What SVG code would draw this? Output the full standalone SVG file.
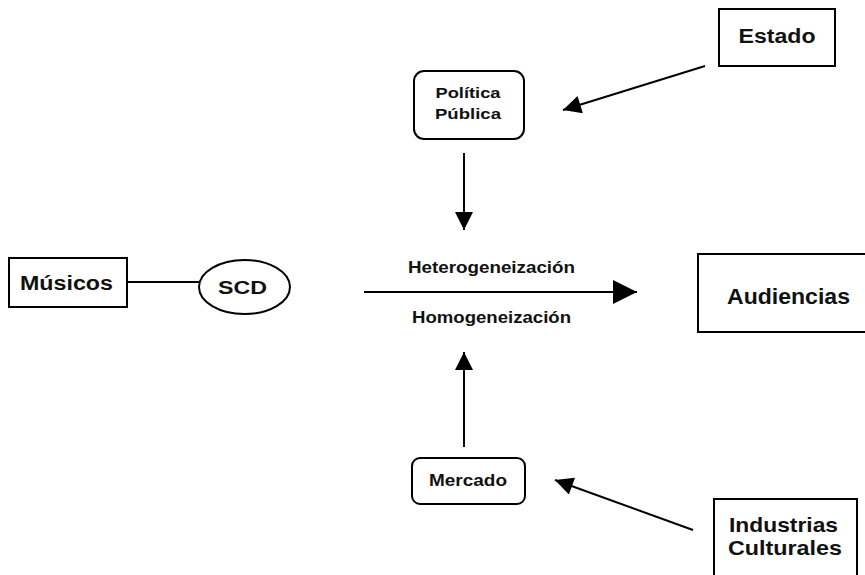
<svg xmlns="http://www.w3.org/2000/svg" width="865" height="575" viewBox="0 0 865 575">
<style>
.box{fill:#fff;stroke:#000;stroke-width:2}
.t{font-family:"Liberation Sans",Arial,sans-serif;font-weight:bold;fill:#111;text-anchor:middle}
.ln{stroke:#000;stroke-width:2;fill:none}
</style>
<defs>
<marker id="ah" viewBox="0 0 10 10" refX="10" refY="5" markerUnits="userSpaceOnUse" markerWidth="21" markerHeight="18" orient="auto"><path d="M0,0 L10,5 L0,10 z" fill="#000"/></marker>
<marker id="ahL" viewBox="0 0 10 10" refX="10" refY="5" markerUnits="userSpaceOnUse" markerWidth="29" markerHeight="24" orient="auto"><path d="M0,0 L10,5 L0,10 z" fill="#000"/></marker>
</defs>
<rect width="865" height="575" fill="#fff"/>
<g id="connectors">
<line class="ln" x1="705" y1="66" x2="563" y2="110" marker-end="url(#ah)"/>
<line class="ln" x1="464" y1="153" x2="464" y2="230" marker-end="url(#ah)"/>
<line class="ln" x1="127" y1="282" x2="199" y2="282"/>
<line class="ln" x1="364" y1="292" x2="637" y2="292" marker-end="url(#ahL)"/>
<line class="ln" x1="464" y1="447" x2="464" y2="352" marker-end="url(#ah)"/>
<line class="ln" x1="693" y1="530" x2="555" y2="480" marker-end="url(#ah)"/>
</g>
<g id="estado">
<rect class="box" x="719" y="9" width="116" height="57"/>
<text class="t" x="777" y="43" font-size="20" textLength="77" lengthAdjust="spacingAndGlyphs">Estado</text>
</g>
<g id="politica">
<rect class="box" x="414" y="71" width="110" height="68" rx="10"/>
<text class="t" x="468" y="98" font-size="15.5" textLength="65" lengthAdjust="spacingAndGlyphs">Política</text>
<text class="t" x="468" y="119" font-size="15.5" textLength="66" lengthAdjust="spacingAndGlyphs">Pública</text>
</g>
<g id="musicos">
<rect class="box" x="9" y="258" width="118" height="49"/>
<text class="t" x="66.5" y="290" font-size="19.5" textLength="93" lengthAdjust="spacingAndGlyphs">Músicos</text>
</g>
<g id="scd">
<ellipse class="box" cx="244.5" cy="287" rx="45.5" ry="27"/>
<text class="t" x="242.5" y="294" font-size="18" textLength="49" lengthAdjust="spacingAndGlyphs">SCD</text>
</g>
<g id="labels">
<text class="t" x="491.5" y="273" font-size="16.5" textLength="167" lengthAdjust="spacingAndGlyphs">Heterogeneización</text>
<text class="t" x="491.5" y="323" font-size="16.5" textLength="159" lengthAdjust="spacingAndGlyphs">Homogeneización</text>
</g>
<g id="audiencias">
<rect class="box" x="698" y="254" width="180" height="78"/>
<text class="t" x="788.5" y="304" font-size="22" textLength="123" lengthAdjust="spacingAndGlyphs">Audiencias</text>
</g>
<g id="mercado">
<rect class="box" x="412" y="458" width="113" height="46" rx="8"/>
<text class="t" x="468" y="486" font-size="16.5" textLength="78" lengthAdjust="spacingAndGlyphs">Mercado</text>
</g>
<g id="industrias">
<rect class="box" x="714" y="499" width="143" height="90"/>
<text class="t" x="783.5" y="532" font-size="21" textLength="109" lengthAdjust="spacingAndGlyphs">Industrias</text>
<text class="t" x="785" y="555" font-size="21" textLength="114" lengthAdjust="spacingAndGlyphs">Culturales</text>
</g>
</svg>
